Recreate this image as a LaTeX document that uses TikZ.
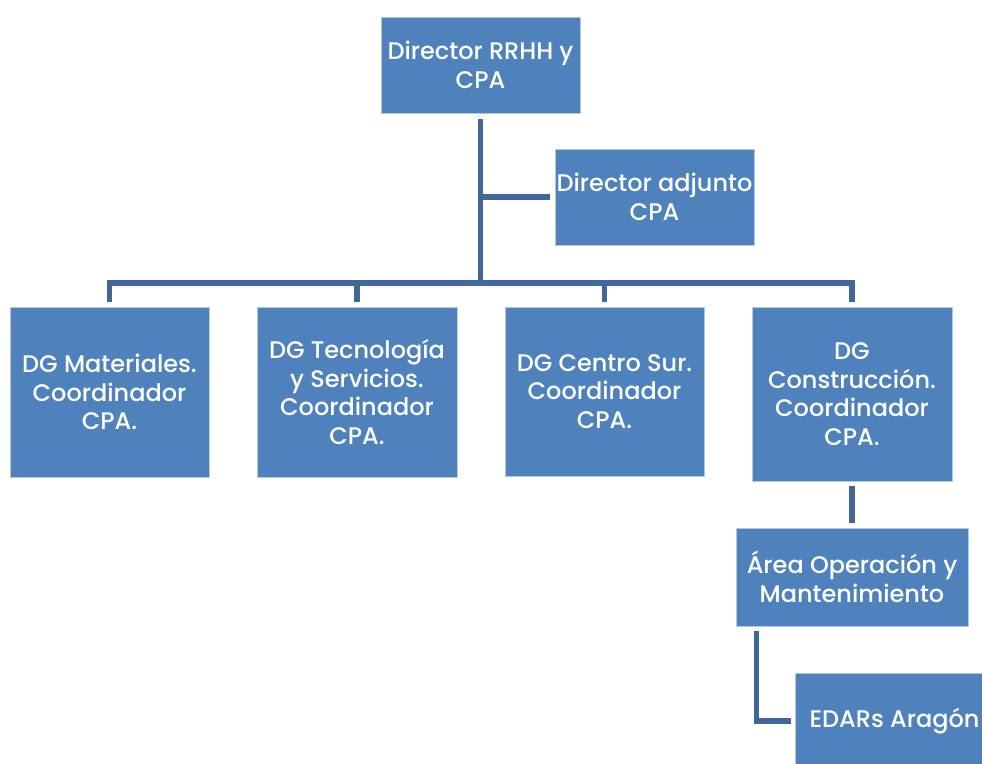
\documentclass[tikz,border=0pt]{standalone}
\usepackage{fontspec}
\setmainfont{Poppins}
\IfFontExistsTF{Poppins Medium}{\newfontfamily\boxfont{Poppins Medium}}{\newfontfamily\boxfont{Poppins}}
\usetikzlibrary{calc}
\definecolor{boxblue}{HTML}{4F81BD}
\definecolor{boxedge}{HTML}{B3C8E3}
\definecolor{linkblue}{HTML}{41679A}
\tikzset{
  orgbox/.style={rectangle, fill=boxblue, draw=boxedge, line width=0.8pt, text=white,
    align=center, inner sep=0pt, font=\boxfont\fontsize{24}{28.5}\selectfont},
  conn/.style={draw=linkblue, line width=5.5pt, line cap=butt, line join=miter}
}
\begin{document}
\begin{tikzpicture}[x=1pt, y=-1pt]
\clip (0,0) rectangle (982,763);
\fill[white] (0,0) rectangle (982,763);
\node[orgbox, minimum width=199pt, minimum height=96pt] (top) at (480.5,65) {Director RRHH y\\CPA};
\node[orgbox, minimum width=199pt, minimum height=96pt] (adj) at (654.5,197) {Director adjunto\\CPA};
\node[orgbox, minimum width=199pt, minimum height=170pt] (b1) at (109.5,392) {DG Materiales.\\Coordinador\\CPA.};
\node[orgbox, minimum width=200pt, minimum height=170pt] (b2) at (357,392) {DG Tecnología\\y Servicios.\\Coordinador\\CPA.};
\node[orgbox, minimum width=199pt, minimum height=169pt] (b3) at (604.5,391.5) {DG Centro Sur.\\Coordinador\\CPA.};
\node[orgbox, minimum width=200pt, minimum height=174pt] (b4) at (852,394) {DG\\Construcción.\\Coordinador\\CPA.};
\node[orgbox, minimum width=232pt, minimum height=98pt] (area) at (852,577) {Área Operación y\\Mantenimiento};
\node[orgbox, minimum width=199pt, minimum height=96pt] (edar) at (894.5,721) {EDARs Aragón};
\coordinate (bus) at (480.5,283);
\draw[conn, shorten <=6pt] (top.south) -- (bus);
\draw[conn, shorten >=5pt] (top.south |- adj.west) -- (adj.west);
\draw[conn, shorten <=5pt, shorten >=5pt] (b1.north) |- (bus) -| (b4.north);
\draw[conn, shorten >=5pt] (b2.north |- bus) -- (b2.north);
\draw[conn, shorten >=5pt] (b3.north |- bus) -- (b3.north);
\draw[conn, shorten <=5pt, shorten >=5pt] (b4.south) -- (area.north);
\coordinate (areaout) at ($(area.south west)+(21,0)$);
\draw[conn, shorten <=5pt, shorten >=4pt] (areaout) |- (edar.west);
\end{tikzpicture}
\end{document}
